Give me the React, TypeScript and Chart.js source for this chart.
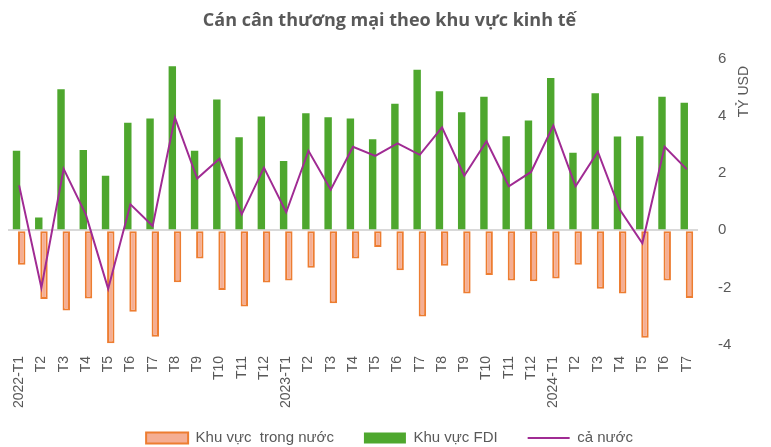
import React, { useEffect, useRef } from "react";
import { Chart, registerables } from "chart.js";

Chart.register(...registerables);

const categories = [
  "2022-T1", "T2", "T3", "T4", "T5", "T6", "T7", "T8", "T9", "T10", "T11", "T12",
  "2023-T1", "T2", "T3", "T4", "T5", "T6", "T7", "T8", "T9", "T10", "T11", "T12",
  "2024-T1", "T2", "T3", "T4", "T5", "T6", "T7",
];

const fdiValues = [
  2.78, 0.45, 4.93, 2.81, 1.91, 3.76, 3.91, 5.73, 2.78, 4.57, 3.25, 3.98,
  2.42, 4.09, 3.95, 3.91, 3.18, 4.42, 5.61, 4.86, 4.13, 4.67, 3.29, 3.84,
  5.32, 2.71, 4.79, 3.28, 3.29, 4.67, 4.46,
];

const domesticValues = [
  -1.2, -2.4, -2.8, -2.38, -3.94, -2.84, -3.72, -1.81, -0.98, -2.08, -2.66, -1.82,
  -1.75, -1.31, -2.55, -0.98, -0.58, -1.39, -3.01, -1.24, -2.21, -1.56, -1.75, -1.78,
  -1.68, -1.2, -2.04, -2.21, -3.75, -1.75, -2.36,
];

const totalValues = [
  1.57, -2.0, 2.15, 0.55, -2.04, 0.91, 0.15, 3.94, 1.81, 2.5, 0.56, 2.19,
  0.63, 2.78, 1.42, 2.92, 2.6, 3.04, 2.64, 3.6, 1.91, 3.11, 1.54, 2.04,
  3.66, 1.54, 2.75, 0.71, -0.45, 2.92, 2.13,
];

const titleText = "Cán cân thương mại theo khu vực kinh tế";
const yAxisTitle = "TỶ USD";
const seriesNames = ["Khu vực FDI", "Khu vực  trong nước", "cả nước"];

const GREY = "#595959";

const axisTitlePlugin = {
  id: "axisTitleRight",
  afterDraw(chart: any) {
    const ctx = chart.ctx;
    const y = chart.scales.y;
    ctx.save();
    ctx.font = "14px 'Liberation Sans', Arial, sans-serif";
    ctx.fillStyle = GREY;
    ctx.textAlign = "center";
    ctx.textBaseline = "middle";
    const top = y.getPixelForValue(6);
    ctx.translate(y.left + 46, top + 33);
    ctx.rotate(-Math.PI / 2);
    ctx.fillText(yAxisTitle, 0, 0);
    ctx.restore();
  },
};

const legendPlacePlugin = {
  id: "legendPlace",
  afterLayout(chart: any) {
    const lg = chart.legend;
    if (!lg) return;
    const pad = lg.options.labels.padding;
    const h = lg.height;
    const top = 438 - pad - 7.5;
    lg.top = top;
    lg.bottom = top + h;
  },
};

export default function App() {
  const canvasRef = useRef<HTMLCanvasElement | null>(null);

  useEffect(() => {
    if (!canvasRef.current) return;
    const chart = new Chart(canvasRef.current, {
      type: "bar",
      data: {
        labels: categories,
        datasets: [
          {
            type: "bar",
            label: seriesNames[0],
            data: fdiValues,
            backgroundColor: "#4EA72E",
            borderWidth: 0,
            pointStyle: "rect",
            categoryPercentage: 0.47,
            barPercentage: 1.42,
            order: 1,
          } as any,
          {
            type: "bar",
            label: seriesNames[1],
            data: domesticValues,
            backgroundColor: "#F5AE93",
            borderColor: "#ED7D31",
            borderWidth: 2,
            borderSkipped: false,
            pointStyle: "rect",
            categoryPercentage: 0.47,
            barPercentage: 1.42,
            order: 2,
          } as any,
          {
            type: "line",
            label: seriesNames[2],
            data: totalValues,
            borderColor: "#A02B93",
            backgroundColor: "#A02B93",
            borderWidth: 2,
            pointRadius: 0,
            pointStyle: "line",
            tension: 0,
            order: 0,
          } as any,
        ],
      },
      options: {
        responsive: false,
        maintainAspectRatio: false,
        animation: false,
        layout: { padding: { left: 8, right: 0, top: 0, bottom: -19 } },
        plugins: {
          title: {
            display: true,
            text: titleText,
            color: GREY,
            font: { family: "'Open Sans', Lato, sans-serif", size: 18, weight: "bold" },
            padding: { top: 10, bottom: 27 },
          },
          legend: {
            position: "bottom",
            labels: {
              color: GREY,
              font: { family: "'Liberation Sans', Arial, sans-serif", size: 15 },
              usePointStyle: true,
              pointStyleWidth: 42,
              boxHeight: 11,
              padding: 30,
              sort: (a: any, b: any) => {
                const rank = [1, 0, 2];
                return rank[a.datasetIndex] - rank[b.datasetIndex];
              },
            },
          },
          tooltip: { enabled: false },
        },
        scales: {
          x: {
            grid: { display: false },
            border: { display: false },
            ticks: {
              color: GREY,
              font: { family: "'Liberation Sans', Arial, sans-serif", size: 14 },
              minRotation: 90,
              maxRotation: 90,
              autoSkip: false,
              padding: 3,
            },
          },
          y: {
            position: "right",
            min: -4,
            max: 6,
            border: { display: false },
            grid: {
              drawTicks: false,
              color: (c: any) => (c.tick && c.tick.value === 0 ? "#D9D9D9" : "rgba(0,0,0,0)"),
              lineWidth: 2,
            },
            ticks: {
              stepSize: 2,
              color: GREY,
              font: { family: "'Liberation Sans', Arial, sans-serif", size: 15 },
              padding: 20,
            },
            afterFit: (scale: any) => {
              scale.width = 73;
            },
          },
        },
      },
      plugins: [axisTitlePlugin, legendPlacePlugin],
    } as any);
    return () => chart.destroy();
  }, []);

  return (
    <div style={{ position: "fixed", left: 0, top: 0, width: 771, height: 447, background: "#fff" }}>
      <canvas ref={canvasRef} width={771} height={447} style={{ width: 771, height: 447 }} />
    </div>
  );
}
